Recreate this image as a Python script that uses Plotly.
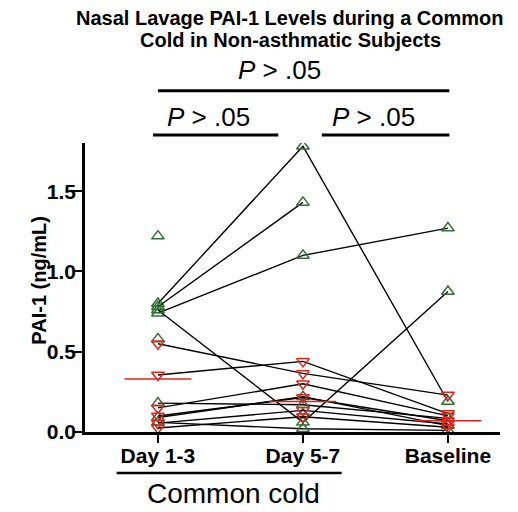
import plotly.graph_objects as go

# ---- data ----
categories = ["Day 1-3", "Day 5-7", "Baseline"]

# green (up-triangle) subjects: values at Day 1-3, Day 5-7, Baseline (None = missing)
green_day13 = [1.22, 0.80, 0.78, 0.74, 0.76, 0.58, 0.18, 0.09, 0.06, None]
green_day57 = [None, 1.78, 1.43, 1.10, 0.06, None, 0.17, 0.22, 0.02, 0.11]
green_base  = [None, 0.19, None, 1.27, 0.875, None, 0.085, 0.04, 0.01, None]

# red (down-triangle) subjects
red_day13 = [0.55, 0.355, 0.15, 0.10, 0.055, 0.025]
red_day57 = [0.365, 0.44, 0.30, 0.215, 0.135, 0.095]
red_base  = [0.23, 0.115, 0.10, 0.07, 0.05, 0.03]

medians = [0.33, 0.19, 0.07]

y_ticks = [0.0, 0.5, 1.0, 1.5]
y_tick_labels = ["0.0", "0.5", "1.0", "1.5"]

title_lines = ["Nasal Lavage PAI-1 Levels during a Common", "Cold in Non-asthmatic Subjects"]

GREEN = "#2f6f35"
RED = "#e2231a"
FONT = "Liberation Sans, Arial, sans-serif"

fig = go.Figure()
xs = list(range(len(categories)))


def add_subjects(d13, d57, base, symbol, color):
    for a, b, c in zip(d13, d57, base):
        fig.add_trace(go.Scatter(
            x=xs, y=[a, b, c], mode="lines+markers",
            line=dict(color="black", width=1.4),
            marker=dict(symbol=symbol, color=color, size=11, line=dict(width=1.5, color=color)),
            connectgaps=False, showlegend=False, hoverinfo="y"))


add_subjects(green_day13, green_day57, green_base, "triangle-up-open", GREEN)
add_subjects(red_day13, red_day57, red_base, "triangle-down-open", RED)

half = 0.23
for i, m in enumerate(medians):
    fig.add_trace(go.Scatter(x=[i - half, i + half], y=[m, m], mode="lines",
                             line=dict(color=RED, width=1.6), showlegend=False, hoverinfo="skip"))

# significance brackets: (line x0, line x1, line y, text x, text y)
brackets = [(0.0, 2.01, 1.181, 0.84, 1.253),
            (-0.034, 0.83, 1.028, 0.35, 1.09),
            (1.13, 2.01, 1.028, 1.49, 1.09)]
for x0, x1, yl, xt, yt in brackets:
    fig.add_shape(type="line", xref="x", yref="paper", x0=x0, x1=x1, y0=yl, y1=yl,
                  line=dict(color="black", width=3))
    fig.add_annotation(x=xt, y=yt, xref="x", yref="paper",
                       text="<i>P</i> > .05", showarrow=False,
                       font=dict(size=26, color="black", family=FONT), yanchor="middle")

# common cold group line
fig.add_shape(type="line", xref="x", yref="paper", x0=-0.285, x1=1.267, y0=-0.142, y1=-0.142,
              line=dict(color="black", width=2.5))
fig.add_annotation(x=0.52, y=-0.212, xref="x", yref="paper", text="Common cold", showarrow=False,
                   font=dict(size=28, color="black", family=FONT), yanchor="middle")

# title (two lines)
for txt, yy in zip(title_lines, [1.433, 1.357]):
    fig.add_annotation(x=0.494, y=yy, xref="paper", yref="paper", text="<b>%s</b>" % txt,
                       showarrow=False, yanchor="middle", xanchor="center",
                       font=dict(size=20, color="black", family=FONT))

# y-axis title
fig.add_annotation(x=-0.11, y=0.525, xref="paper", yref="paper", text="<b>PAI-1 (ng/mL)</b>",
                   textangle=-90, showarrow=False, xanchor="center", yanchor="middle",
                   font=dict(size=20, color="black", family=FONT))

fig.update_layout(
    width=518, height=512,
    margin=dict(l=85, r=18, t=143, b=80, autoexpand=False),
    plot_bgcolor="white", paper_bgcolor="white",
    font=dict(family=FONT, color="black"),
)
fig.update_xaxes(range=[-0.503, 2.359], tickvals=xs, ticktext=["<b>%s</b>" % c for c in categories],
                 showline=True, linecolor="black", linewidth=2.5, ticks="outside", ticklen=8,
                 tickwidth=2, tickcolor="black", showgrid=False, zeroline=False, automargin=False,
                 ticklabelstandoff=-5,
                 tickfont=dict(size=21, family=FONT, color="black"))
fig.update_yaxes(range=[0, 1.8], tickvals=y_ticks, ticktext=["<b>%s</b>" % t for t in y_tick_labels],
                 showline=True, linecolor="black", linewidth=2.5, ticks="outside", ticklen=9,
                 tickwidth=2, tickcolor="black", showgrid=False, zeroline=False, automargin=False,
                 ticklabelstandoff=-7,
                 tickfont=dict(size=21, family=FONT, color="black"))

fig.write_html("out.html", config={"displayModeBar": False},
               post_script="document.body.style.margin='0px';")
